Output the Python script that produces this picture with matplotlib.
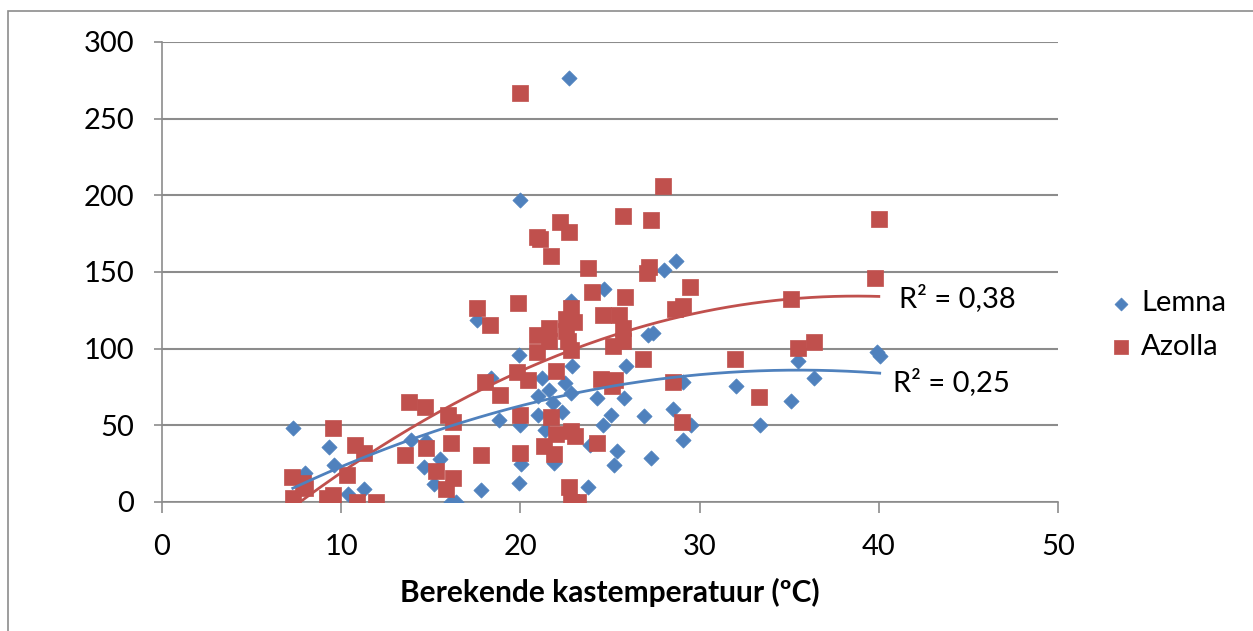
import numpy as np
import matplotlib
matplotlib.use("Agg")
import matplotlib.pyplot as plt
from matplotlib.patches import Rectangle

# Lemna: temperature (ºC) and value
lemna_x = [7.3, 9.3, 9.6, 8.0, 10.4, 11.3, 13.9, 14.75, 14.6, 15.5, 15.2, 16.1, 16.4,
           17.6, 17.8, 18.35, 18.8, 19.9, 19.95, 19.9, 20.05, 20.0, 22.7, 21.2, 21.6,
           22.5, 22.8, 21.0, 21.8, 22.3, 22.8, 22.9, 24.3, 25.8, 21.0, 21.4, 25.05,
           24.6, 23.9, 25.4, 25.2, 21.9, 23.8, 25.9, 24.65, 28.0, 28.7, 27.1, 27.4,
           26.9, 28.5, 29.5, 29.05, 27.3, 29.1, 32.05, 33.35, 35.1, 35.5, 36.4, 39.9, 40.05]
lemna_y = [48, 36, 24, 19, 5, 8.5, 40.5, 40, 23, 28, 12, 0, 0,
           119, 8, 81, 53.6, 96, 50, 12.6, 24.5, 197, 276.5, 81, 73,
           77.6, 71, 69, 64.5, 59, 131, 88.4, 68, 68, 57, 47, 57,
           50.3, 37.3, 33, 24.2, 25.3, 10, 88.4, 138.6, 151.6, 157, 109, 110.3,
           56, 60.6, 50, 40.5, 28.5, 78, 75.4, 50, 65.6, 91.7, 80.8, 97.6, 95]

# Azolla
azolla_x = [7.25, 7.85, 8.0, 7.3, 9.2, 9.55, 9.55, 10.75, 11.25, 10.3, 10.9, 11.95,
            13.8, 14.7, 15.95, 16.25, 16.15, 13.55, 14.75, 15.3, 16.25, 15.85,
            17.8, 17.6, 18.3, 19.85, 18.0, 18.85, 19.8, 20.0, 20.0, 19.95,
            27.95, 25.75, 27.3, 22.2, 20.95, 21.1, 22.7, 21.7, 23.75, 27.2, 27.05,
            24.0, 29.45, 25.85, 22.8, 24.6, 25.5, 28.6, 29.1, 22.55, 23.0, 21.6,
            20.95, 22.55, 21.6, 22.65, 25.75, 25.15, 25.7, 20.9, 22.8, 22.0, 20.4,
            24.5, 25.3, 25.1, 21.7, 22.0, 22.8, 23.05, 24.3, 21.3, 21.9, 22.7,
            23.2, 22.85, 26.85, 28.5, 29.0, 32.0, 33.3, 35.1, 35.5, 36.4, 39.8, 40.0]
azolla_y = [16.5, 12.2, 9, 2.4, 2.4, 4.6, 48.2, 37.3, 31.8, 17.6, 0, 0,
            65, 62, 57, 52.5, 38.3, 30.7, 35, 20.5, 15.5, 8.3,
            30.7, 126.6, 115.2, 129.5, 78.2, 70, 84.5, 57, 32, 266.5,
            206, 186.3, 184.2, 182.5, 173, 171.7, 176, 160.7, 152.3, 153.5, 149.3,
            136.8, 140, 133.6, 126.3, 121.8, 121.8, 125.8, 127.6, 119.6, 117.4, 113.5,
            109.2, 111.3, 104.8, 104.8, 113.5, 101.5, 104.8, 97.6, 99.3, 85.2, 79.3,
            80.2, 79.7, 75.4, 55.3, 44.4, 46.6, 43.1, 38.8, 36.6, 31.2, 10,
            0.3, 0.3, 93.5, 78, 52.5, 93.5, 68.2, 132.7, 100.4, 104.1, 146.2, 184.3]

r2_labels = ["R² = 0,38", "R² = 0,25"]
x_ticks = [0, 10, 20, 30, 40, 50]
y_ticks = [0, 50, 100, 150, 200, 250, 300]

blue = "#4F81BD"
red = "#C0504D"
grid_col = "#8C8C8C"

plt.rcParams['font.family'] = ['Lato', 'DejaVu Sans']

fig = plt.figure(figsize=(12.53, 6.31), dpi=100)
ax = fig.add_axes([162/1253, 1 - 502/631, (1058-162)/1253, (502-42)/631])

ax.scatter(lemna_x, lemna_y, marker='D', s=60, color=blue, edgecolors=blue,
           linewidths=0.5, label="Lemna", zorder=3)
ax.scatter(azolla_x, azolla_y, marker='s', s=125, color=red, edgecolors=red,
           linewidths=0.5, label="Azolla", zorder=3)

# polynomial (order 2) trend lines, as in the spreadsheet
for xs, ys, c in [(azolla_x, azolla_y, red), (lemna_x, lemna_y, blue)]:
    p = np.polyfit(xs, ys, 2)
    xx = np.linspace(min(xs), max(xs), 200)
    ax.plot(xx, np.polyval(p, xx), color=c, lw=2.0, zorder=4)

ax.text(41.1, 133, r2_labels[0], fontsize=21, va='center', ha='left')
ax.text(40.8, 78, r2_labels[1], fontsize=21, va='center', ha='left')

ax.set_xlim(0, 50)
ax.set_ylim(0, 300)
ax.set_xticks(x_ticks)
ax.set_yticks(y_ticks)
ax.tick_params(axis='both', labelsize=21, direction='out', color=grid_col, width=1.2)
ax.tick_params(axis='y', length=6, pad=14)
ax.tick_params(axis='x', length=8, pad=15)
ax.yaxis.grid(True, color=grid_col, lw=1.5)
ax.set_axisbelow(True)
for side in ['top', 'right']:
    ax.spines[side].set_visible(False)
for side in ['left', 'bottom']:
    ax.spines[side].set_color(grid_col)
    ax.spines[side].set_linewidth(1.2)

ax.set_xlabel("Berekende kastemperatuur (ºC)", fontsize=21.5, fontweight='bold',
              labelpad=13)

fig.legend(loc='center left', bbox_to_anchor=(1106/1253, 1 - 325/631),
           frameon=False, fontsize=21, borderpad=0, borderaxespad=0,
           handlelength=1.0, handletextpad=0.2, labelspacing=0.6,
           scatterpoints=1, markerscale=0.85)

fig.patches.append(Rectangle((8/1253, -0.02), 1.1, 1 - 11/631 + 0.02,
                             transform=fig.transFigure, fill=False,
                             edgecolor="#8C8C8C", lw=1.2))

fig.savefig("out.png", dpi=100)
